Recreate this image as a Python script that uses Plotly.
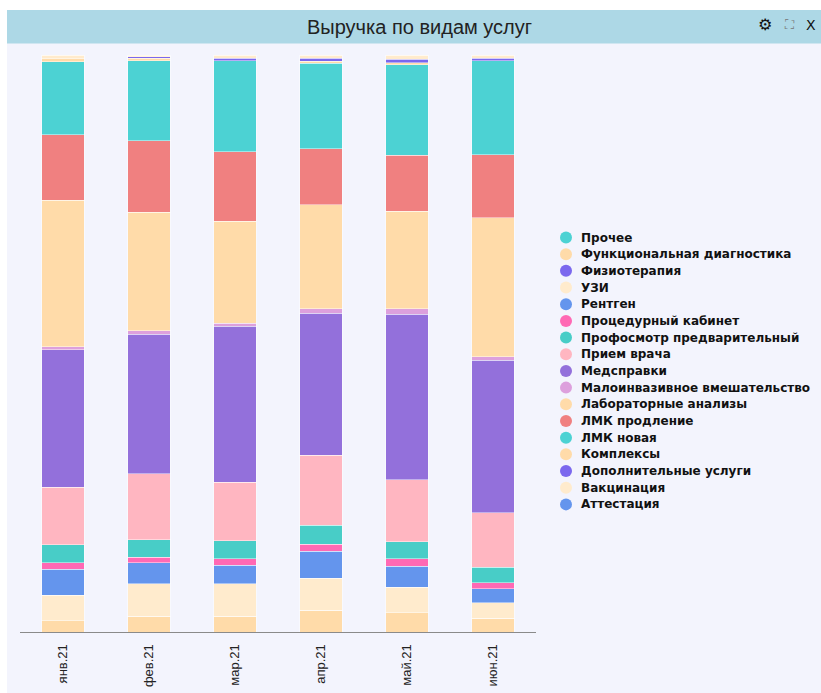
import plotly.graph_objects as go

# ---------------- data ----------------
months = ["янв.21", "фев.21", "мар.21", "апр.21", "май.21", "июн.21"]

series_names = [
    "Прочее", "Функциональная диагностика", "Физиотерапия", "УЗИ", "Рентген",
    "Процедурный кабинет", "Профосмотр предварительный", "Прием врача", "Медсправки",
    "Малоинвазивное вмешательство", "Лабораторные анализы", "ЛМК продление",
    "ЛМК новая", "Комплексы", "Дополнительные услуги", "Вакцинация", "Аттестация",
]

prochee    = [0, 0, 0, 0, 0, 0]
funk_diag  = [1.96, 2.77, 2.77, 3.74, 3.34, 2.36]
fizio      = [0, 0, 0, 0, 0, 0]
uzi        = [4.38, 5.55, 5.55, 5.55, 4.38, 2.72]
rentgen    = [4.51, 3.69, 3.29, 4.68, 3.64, 2.43]
procedur   = [1.11, 0.92, 1.09, 1.28, 1.33, 0.99]
profosmotr = [3.12, 3.07, 3.12, 3.29, 2.95, 2.70]
priem      = [9.98, 11.39, 10.17, 12.13, 10.75, 9.48]
medspravki = [23.86, 24.19, 26.97, 24.54, 28.65, 26.43]
maloinv    = [0.52, 0.64, 0.52, 0.81, 0.99, 0.61]
lab        = [25.36, 20.50, 17.75, 18.02, 16.86, 24.04]
lmk_prodl  = [11.33, 12.43, 12.01, 9.71, 9.77, 10.92]
lmk_new    = [12.70, 13.86, 15.77, 14.85, 15.65, 16.34]
kompleksy  = [0.52, 0.45, 0, 0.28, 0.35, 0]
dop        = [0, 0.27, 0.40, 0.52, 0.57, 0.40]
vakcin     = [0.64, 0.27, 0.59, 0.59, 0.76, 0.59]
attest     = [0, 0, 0, 0, 0, 0]

series_values = [prochee, funk_diag, fizio, uzi, rentgen, procedur, profosmotr, priem,
                 medspravki, maloinv, lab, lmk_prodl, lmk_new, kompleksy, dop, vakcin, attest]

colors = ["#4CD2D3", "#FFDBA9", "#7B68EE", "#FFEBCD", "#6495ED", "#FF69B4", "#48CDC7",
          "#FFB6C1", "#9370DB", "#DDA0DD", "#FFDBA9", "#F08080", "#4CD2D3", "#FFDBA9",
          "#7B68EE", "#FFEBCD", "#6495ED"]

# ---------------- layout geometry (pixels) ----------------
W, H = 821, 693
L, R, T, B = 20, 285, 55, 61
PW, PH = W - L - R, H - T - B


def px(x):
    return (x - L) / PW


def py(y):
    return (H - B - y) / PH


fig = go.Figure()
for name, vals, col in zip(series_names, series_values, colors):
    fig.add_trace(go.Bar(
        x=months, y=vals, name=name, showlegend=False,
        marker=dict(color=col, line=dict(color="rgba(255,255,255,0.45)", width=1)),
    ))

shapes = [
    dict(type="rect", xref="paper", yref="paper", layer="below",
         x0=px(7), x1=px(W + 5), y0=py(H + 5), y1=py(43),
         fillcolor="#F3F4FD", line=dict(width=0)),
    dict(type="rect", xref="paper", yref="paper", layer="below",
         x0=px(7), x1=px(W + 5), y0=py(43.5), y1=py(10),
         fillcolor="#ADD8E6", line=dict(width=0)),
]

annotations = [
    dict(text="Выручка по видам услуг", x=px(419), y=py(27), xref="paper", yref="paper",
         showarrow=False, xanchor="center", yanchor="middle",
         font=dict(family="Liberation Sans, Arial, sans-serif", size=20, color="#222")),
    dict(text="⚙", x=px(765), y=py(25), xref="paper", yref="paper", showarrow=False,
         xanchor="center", yanchor="middle",
         font=dict(family="DejaVu Sans", size=16, color="#111")),
    dict(text="⛶", x=px(789), y=py(25), xref="paper", yref="paper", showarrow=False,
         xanchor="center", yanchor="middle",
         font=dict(family="DejaVu Sans", size=13, color="#777")),
    dict(text="X", x=px(811), y=py(25), xref="paper", yref="paper", showarrow=False,
         xanchor="center", yanchor="middle",
         font=dict(family="DejaVu Sans", size=14, color="#111")),
]

# custom legend (circle markers)
leg_top, leg_step = 237.5, 16.68
for i, (name, col) in enumerate(zip(series_names, colors)):
    yc = leg_top + i * leg_step
    shapes.append(dict(type="circle", xref="paper", yref="paper",
                       xsizemode="pixel", ysizemode="pixel",
                       xanchor=px(566), yanchor=py(yc),
                       x0=-6, x1=6, y0=-6, y1=6,
                       fillcolor=col, line=dict(width=0)))
    annotations.append(dict(text=name, x=px(579), y=py(yc), xref="paper", yref="paper",
                            showarrow=False, xanchor="left", yanchor="middle",
                            font=dict(family="DejaVu Sans", size=12, color="#111",
                                      weight="bold")))

fig.update_layout(
    width=W, height=H,
    margin=dict(l=L, r=R, t=T, b=B, pad=0, autoexpand=False),
    barmode="stack", barnorm="percent", bargap=0.51,
    paper_bgcolor="white", plot_bgcolor="rgba(0,0,0,0)",
    showlegend=False,
    shapes=shapes, annotations=annotations,
    xaxis=dict(showline=True, linecolor="#8a8a8a", linewidth=1, showgrid=False,
               automargin=False,
               tickangle=-90, ticks="outside", ticklen=6, tickcolor="rgba(0,0,0,0)",
               tickfont=dict(family="Liberation Sans, Arial, sans-serif", size=13,
                             color="#222")),
    yaxis=dict(range=[0, 100], showticklabels=False, showgrid=False, zeroline=False,
               showline=False, automargin=False),
)

fig.write_html("out.html", config={"displayModeBar": False},
               post_script="document.body.style.margin='0';document.body.style.overflow='hidden';")
